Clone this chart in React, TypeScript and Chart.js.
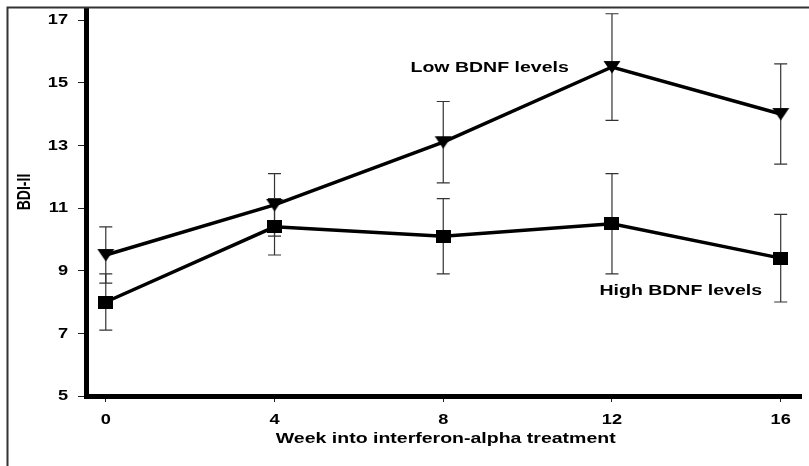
import React, { useEffect, useRef } from "react";
import { Chart, registerables } from "chart.js";

Chart.register(...registerables);

// ---- data ----
const weeks = [0, 4, 8, 12, 16];
const lowBdnfMean = [9.5, 11.1, 13.1, 15.5, 14.0];
const lowBdnfErr = [0.9, 1.0, 1.3, 1.7, 1.6];
const highBdnfMean = [8.0, 10.4, 10.1, 10.5, 9.4];
const highBdnfErr = [0.9, 0.9, 1.2, 1.6, 1.4];
const xTickValues = [0, 4, 8, 12, 16];
const yTickValues = [5, 7, 9, 11, 13, 15, 17];
const xTitle = "Week into interferon-alpha treatment";
const yTitle = "BDI-II";
const lowLabel = "Low BDNF levels";
const highLabel = "High BDNF levels";

const SX = 1.3; // horizontal stretch of the original picture's text
const FONT = '"Liberation Sans", Arial, Helvetica, sans-serif';

function drawText(
  ctx: CanvasRenderingContext2D,
  text: string,
  x: number,
  y: number,
  size: number,
  align: CanvasTextAlign,
  rotate = false
) {
  ctx.save();
  ctx.translate(x, y);
  ctx.scale(SX, 1);
  if (rotate) ctx.rotate(-Math.PI / 2);
  ctx.font = `bold ${size}px ${FONT}`;
  ctx.textAlign = align;
  ctx.textBaseline = "middle";
  ctx.fillStyle = "#000";
  ctx.fillText(text, 0, 0);
  ctx.restore();
}

function makeTriangle(): HTMLCanvasElement {
  const c = document.createElement("canvas");
  c.width = 18;
  c.height = 14;
  const g = c.getContext("2d")!;
  g.fillStyle = "#000";
  g.beginPath();
  g.moveTo(0.5, 1);
  g.lineTo(17.5, 1);
  g.lineTo(9, 13.5);
  g.closePath();
  g.fill();
  return c;
}

function makeSquare(): HTMLCanvasElement {
  const c = document.createElement("canvas");
  c.width = 15;
  c.height = 13;
  const g = c.getContext("2d")!;
  g.fillStyle = "#000";
  g.fillRect(0, 0, 15, 13);
  return c;
}

export default function App() {
  const ref = useRef<HTMLCanvasElement | null>(null);

  useEffect(() => {
    if (!ref.current) return;

    const errorBars = {
      id: "errorBars",
      beforeDatasetsDraw(chart: any) {
        const { ctx } = chart;
        const xs = chart.scales.x;
        const ys = chart.scales.y;
        const series = [
          [lowBdnfMean, lowBdnfErr],
          [highBdnfMean, highBdnfErr],
        ];
        ctx.save();
        ctx.strokeStyle = "#333";
        ctx.lineWidth = 1.2;
        for (const [means, errs] of series) {
          means.forEach((m, i) => {
            const x = xs.getPixelForValue(weeks[i]);
            const yTop = ys.getPixelForValue(m + errs[i]);
            const yBot = ys.getPixelForValue(m - errs[i]);
            ctx.beginPath();
            ctx.moveTo(x, yTop);
            ctx.lineTo(x, yBot);
            ctx.moveTo(x - 6.5, yTop);
            ctx.lineTo(x + 6.5, yTop);
            ctx.moveTo(x - 6.5, yBot);
            ctx.lineTo(x + 6.5, yBot);
            ctx.stroke();
          });
        }
        ctx.restore();
      },
    };

    const texts = {
      id: "texts",
      afterDraw(chart: any) {
        const { ctx } = chart;
        const xs = chart.scales.x;
        const ys = chart.scales.y;
        // frame
        ctx.save();
        ctx.strokeStyle = "#333";
        ctx.lineWidth = 2;
        ctx.beginPath();
        ctx.moveTo(7.5, chart.height);
        ctx.lineTo(7.5, 7.5);
        ctx.lineTo(chart.width, 7.5);
        ctx.stroke();
        ctx.restore();
        // y tick labels
        yTickValues.forEach((v) => {
          drawText(ctx, String(v), ys.right - 18, ys.getPixelForValue(v) + 0.5, 14, "right");
        });
        // x tick labels
        xTickValues.forEach((v) => {
          drawText(ctx, String(v), xs.getPixelForValue(v), xs.top + 24, 14, "center");
        });
        // axis titles
        drawText(ctx, xTitle, (xs.left + xs.right) / 2 + 2, xs.top + 43, 15, "center");
        drawText(ctx, yTitle, 25, 192, 14, "center", true);
        // series labels
        drawText(ctx, lowLabel, xs.getPixelForValue(9.1), ys.getPixelForValue(15.47), 15, "center");
        drawText(ctx, highLabel, xs.getPixelForValue(13.63), ys.getPixelForValue(8.35), 15, "center");
      },
    };

    const tri = makeTriangle();
    const sq = makeSquare();

    const chart = new Chart(ref.current, {
      type: "line",
      data: {
        datasets: [
          {
            label: lowLabel,
            data: weeks.map((w, i) => ({ x: w, y: lowBdnfMean[i] })),
            borderColor: "#000",
            backgroundColor: "#000",
            borderWidth: 3.5,
            pointStyle: tri as any,
            tension: 0,
          },
          {
            label: highLabel,
            data: weeks.map((w, i) => ({ x: w, y: highBdnfMean[i] })),
            borderColor: "#000",
            backgroundColor: "#000",
            borderWidth: 3.5,
            pointStyle: sq as any,
            tension: 0,
          },
        ],
      },
      options: {
        responsive: false,
        animation: false,
        layout: { padding: { top: 10, left: 0, right: 0, bottom: 0 } },
        plugins: {
          legend: { display: false },
          tooltip: { enabled: false },
          title: { display: false },
        },
        scales: {
          x: {
            type: "linear",
            min: -0.469,
            max: 16.493,
            afterBuildTicks: (s: any) => {
              s.ticks = xTickValues.map((v) => ({ value: v }));
            },
            afterFit: (s: any) => {
              s.height = 70;
            },
            ticks: { display: false },
            grid: {
              display: true,
              drawOnChartArea: false,
              drawTicks: true,
              tickLength: 6,
              tickColor: "#222",
              tickWidth: 1,
            },
            border: { display: true, color: "#000", width: 5 },
          },
          y: {
            type: "linear",
            min: 5,
            max: 17.32,
            afterBuildTicks: (s: any) => {
              s.ticks = yTickValues.map((v) => ({ value: v }));
            },
            afterFit: (s: any) => {
              s.width = 86;
            },
            ticks: { display: false },
            grid: {
              display: true,
              drawOnChartArea: false,
              drawTicks: true,
              tickLength: 8,
              tickColor: "#222",
              tickWidth: 1,
            },
            border: { display: true, color: "#000", width: 5 },
          },
        },
      },
      plugins: [errorBars, texts],
    });

    return () => chart.destroy();
  }, []);

  return (
    <div style={{ position: "absolute", left: 0, top: 0, width: 809, height: 466, background: "#fff" }}>
      <canvas ref={ref} width={809} height={466} style={{ display: "block" }} />
    </div>
  );
}
